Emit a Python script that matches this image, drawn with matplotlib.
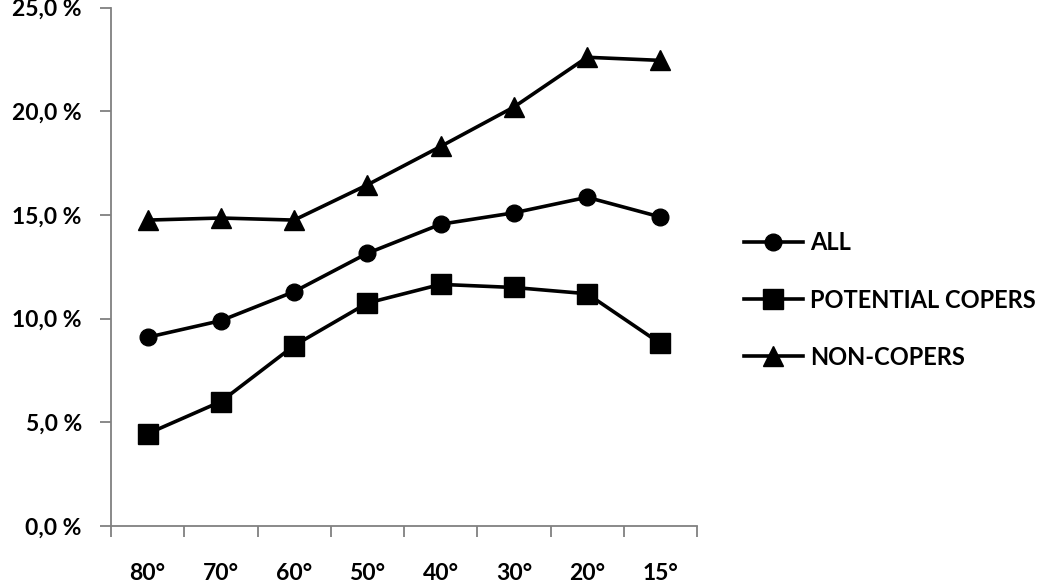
import matplotlib.pyplot as plt
from matplotlib.ticker import FixedLocator, FuncFormatter

angles = ['80°', '70°', '60°', '50°', '40°', '30°', '20°', '15°']
all_vals = [9.1, 9.9, 11.3, 13.15, 14.55, 15.1, 15.85, 14.9]
potential_copers = [4.45, 6.0, 8.7, 10.75, 11.65, 11.5, 11.2, 8.8]
non_copers = [14.75, 14.85, 14.75, 16.45, 18.3, 20.2, 22.6, 22.45]

plt.rcParams['font.family'] = ['Lato', 'DejaVu Sans']
plt.rcParams['font.weight'] = 'bold'

fig = plt.figure(figsize=(10.5, 5.84), dpi=100)
ax = fig.add_axes([111 / 1050, 1 - 526 / 584, (697 - 111) / 1050, (526 - 7.5) / 584])

x = list(range(len(angles)))
ax.plot(x, all_vals, color='black', lw=2.6, marker='o', ms=12, label='ALL')
ax.plot(x, potential_copers, color='black', lw=2.6, marker='s', ms=14, label='POTENTIAL COPERS')
ax.plot(x, non_copers, color='black', lw=2.6, marker='^', ms=15, label='NON-COPERS')

ax.set_xlim(-0.5, len(angles) - 0.5)
ax.set_ylim(0, 25)
ax.set_yticks([0, 5, 10, 15, 20, 25])
ax.yaxis.set_major_formatter(FuncFormatter(lambda v, p: f'{v:.1f}'.replace('.', ',') + ' %'))
ax.set_xticks(x)
ax.set_xticklabels(angles)
ax.xaxis.set_minor_locator(FixedLocator([i - 0.5 for i in range(len(angles) + 1)]))

for side in ['top', 'right']:
    ax.spines[side].set_visible(False)
for side in ['left', 'bottom']:
    ax.spines[side].set_color('#808080')
    ax.spines[side].set_linewidth(1.3)

ax.tick_params(axis='y', length=8, width=1.3, color='#808080', pad=13, labelsize=16.5)
ax.tick_params(axis='x', which='major', length=0, pad=27, labelsize=16.5)
ax.tick_params(axis='x', which='minor', length=8, width=1.3, color='#808080')

fig.legend(loc='center left', bbox_to_anchor=(732 / 1050, 1 - 300 / 584),
           frameon=False, fontsize=17, handlelength=2.5, handletextpad=0.3,
           labelspacing=1.45, borderpad=0)

fig.savefig('out.png', dpi=100)
